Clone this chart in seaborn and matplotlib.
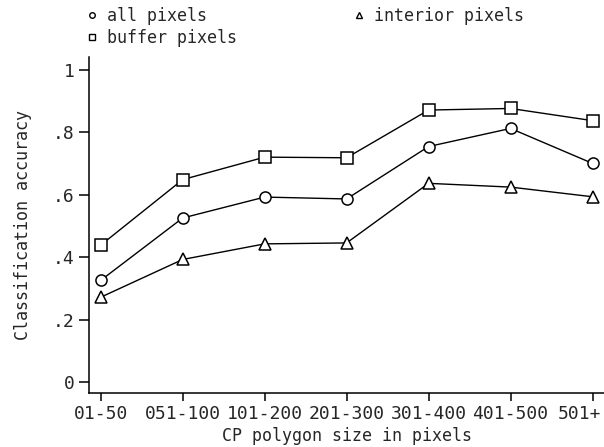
import pandas as pd
import matplotlib
matplotlib.use("Agg")
import matplotlib.pyplot as plt
from matplotlib.lines import Line2D
from matplotlib.transforms import ScaledTranslation
import seaborn as sns

# values
size_classes = ["01-50", "051-100", "101-200", "201-300", "301-400", "401-500", "501+"]
all_pixels = [0.326, 0.526, 0.593, 0.587, 0.755, 0.813, 0.701]
buffer_pixels = [0.439, 0.649, 0.721, 0.719, 0.872, 0.877, 0.838]
interior_pixels = [0.272, 0.393, 0.443, 0.446, 0.637, 0.625, 0.594]

series_names = ["all pixels", "buffer pixels", "interior pixels"]
series_markers = {"all pixels": "o", "buffer pixels": "s", "interior pixels": "^"}

y_ticks = [0, 0.2, 0.4, 0.6, 0.8, 1.0]
y_tick_labels = ["0", ".2", ".4", ".6", ".8", "1"]

# long format for seaborn
df = pd.DataFrame({
    "size": size_classes * 3,
    "pos": list(range(len(size_classes))) * 3,
    "accuracy": all_pixels + buffer_pixels + interior_pixels,
    "series": [s for s in series_names for _ in size_classes],
})

sns.set_style("ticks")
plt.rcParams["font.family"] = ["DejaVu Sans Mono", "DejaVu Sans"]

fig = plt.figure(figsize=(6.04, 4.47), dpi=100)
ax = fig.add_axes([89 / 604, 1 - 393 / 447, (604 - 89) / 604, (393 - 57) / 447])

sns.lineplot(data=df, x="pos", y="accuracy", hue="series", style="series",
             markers=series_markers, dashes=False,
             palette=["black"] * 3, sort=False, legend=False,
             linewidth=1.0, markersize=8, markerfacecolor="white",
             markeredgecolor="black", markeredgewidth=1.1, ax=ax)

ax.set_xlim(-0.143, 6.14)
ax.set_ylim(-0.035, 1.042)
ax.set_xticks(range(len(size_classes)))
ax.set_xticklabels(size_classes, fontsize=13)
ax.set_yticks(y_ticks)
ax.set_yticklabels(y_tick_labels, fontsize=13)
ax.tick_params(axis="x", direction="out", length=5.5, width=1.1, color="black", pad=3)
ax.tick_params(axis="y", direction="out", length=7, width=1.1, color="black", pad=3.5)
# last label is pulled left so it stays inside the figure
last = ax.get_xticklabels()[-1]
last.set_transform(last.get_transform() + ScaledTranslation(-0.13, 0, fig.dpi_scale_trans))
ax.set_xlabel("CP polygon size in pixels", fontsize=12, labelpad=3)
ax.set_ylabel("Classification accuracy", fontsize=12, labelpad=15)
for side in ["left", "bottom"]:
    ax.spines[side].set_linewidth(1.1)
    ax.spines[side].set_color("black")
sns.despine(ax=ax)

handles = [Line2D([], [], marker=series_markers[s], linestyle="none", markersize=4,
                  markerfacecolor="white", markeredgecolor="black", markeredgewidth=1.0)
           for s in series_names]
fig.legend(handles, series_names, loc="upper left", bbox_to_anchor=(87 / 604, 1 - 7 / 447),
           ncol=2, frameon=False, fontsize=12, handlelength=0.6, handletextpad=0.6,
           columnspacing=7.0, labelspacing=0.22, borderpad=0, borderaxespad=0)

fig.savefig("out.png", dpi=100)
